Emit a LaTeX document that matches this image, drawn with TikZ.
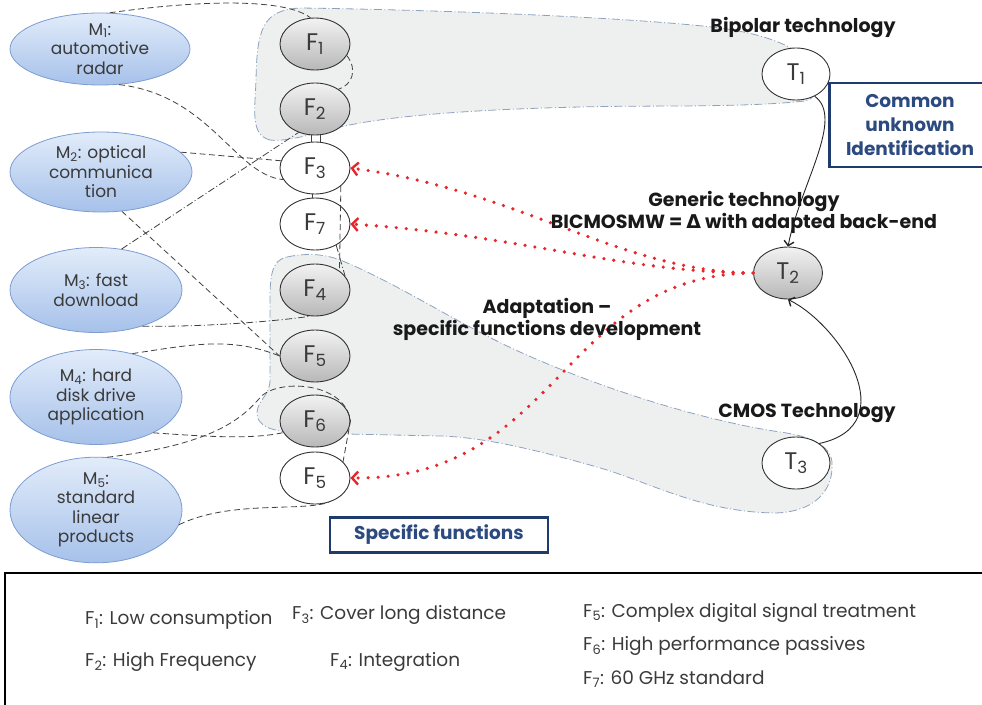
\documentclass[tikz,border=0pt]{standalone}
\usepackage{fontspec}
\setmainfont{Poppins}
\newfontfamily\dejavu{DejaVu Sans}
\usetikzlibrary{arrows.meta,shapes.geometric}
\definecolor{mkttop}{HTML}{E2ECFA}
\definecolor{mktbot}{HTML}{A6C1EA}
\definecolor{mktedge}{HTML}{7C9CD2}
\definecolor{navy}{HTML}{1F3A6E}
\definecolor{navytext}{HTML}{2C4A80}
\definecolor{blobfill}{HTML}{EEF0F0}
\definecolor{blobedge}{HTML}{8EA2BE}
\definecolor{txtgray}{HTML}{3A3A3A}
\definecolor{dotred}{HTML}{E8262A}

\begin{document}
\begin{tikzpicture}[x=1pt,y=-1pt,
    blob/.style={fill=blobfill,draw=blobedge,line width=0.8pt,dash pattern=on 8pt off 2.5pt on 1pt off 2.5pt},
    mkt/.style={ellipse,draw=mktedge,line width=0.8pt,top color=mkttop,bottom color=mktbot,minimum width=180,minimum height=70,inner sep=0pt,align=center,text=txtgray,font=\fontsize{17}{19.5}\selectfont},
    fgray/.style={ellipse,draw=black!80,line width=0.9pt,top color=white!95!black,bottom color=black!28,minimum width=70,minimum height=52,inner sep=0pt,text=txtgray,font=\fontsize{24}{28}\selectfont},
    fwhite/.style={fgray,top color=white,bottom color=white},
    mline/.style={draw=black!75,line width=0.8pt,dash pattern=on 6pt off 3.5pt},
    mdot/.style={draw=black!75,line width=0.8pt,dash pattern=on 7pt off 2.5pt on 1pt off 2.5pt},
    redarr/.style={draw=dotred,line width=3.6pt,line cap=round,dash pattern=on 0pt off 10pt,-{Straight Barb[length=6pt,width=13pt,line width=2.4pt]}},
    techarr/.style={draw=black!85,line width=0.9pt,-{Straight Barb[length=4.5pt,width=10pt,line width=1.4pt]}},
    lbl/.style={font=\fontsize{19}{22}\selectfont\bfseries,text=black!90,align=center,inner sep=0pt},
    navybox/.style={draw=navy,line width=2.4pt,fill=white,text=navytext,align=center,font=\fontsize{18.5}{24}\selectfont\bfseries},
    leg/.style={anchor=west,inner sep=0pt,text=txtgray,font=\fontsize{18.5}{22}\selectfont}]
    \useasboundingbox (0,0) rectangle (982,704);
    \filldraw[blob] (270,140) .. controls (250,135) and (255,110) .. (256,80)
        .. controls (257,30) and (262,10) .. (300,8)
        .. controls (450,10) and (640,18) .. (720,28)
        .. controls (780,36) and (812,55) .. (815,75)
        .. controls (817,95) and (812,100) .. (805,101)
        .. controls (740,108) and (650,105) .. (580,107)
        .. controls (450,110) and (380,118) .. (340,127)
        .. controls (310,135) and (285,142) .. (270,140) -- cycle;
    \filldraw[blob] (287,257) .. controls (310,252) and (330,255) .. (345,262)
        .. controls (400,285) and (460,325) .. (520,352)
        .. controls (600,388) and (700,420) .. (780,432)
        .. controls (810,436) and (830,445) .. (832,462)
        .. controls (834,490) and (815,512) .. (775,513)
        .. controls (700,512) and (650,482) .. (597,467)
        .. controls (530,448) and (480,437) .. (440,436)
        -- (300,433)
        .. controls (270,432) and (256,425) .. (257,412)
        .. controls (258,400) and (270,395) .. (270,380)
        -- (270,300)
        .. controls (270,275) and (272,260) .. (287,257) -- cycle;
    \node[mkt] (M1) at (100,49) {M\textsubscript{1}:\\automotive\\radar};
    \node[mkt,minimum width=182,minimum height=80] (M2) at (101,172) {M\textsubscript{2}: optical\\communica\\tion};
    \node[mkt,minimum width=172,minimum height=85] (M3) at (96,290) {M\textsubscript{3}: fast\\download};
    \node[mkt,minimum width=172,minimum height=95] (M4) at (96,397) {M\textsubscript{4}: hard\\disk drive\\application};
    \node[mkt,minimum width=172,minimum height=95] (M5) at (96,510) {M\textsubscript{5}:\\standard\\linear\\products};
    \node[fgray] (F1) at (315,44) {F\textsubscript{1}};
    \node[fgray] (F2) at (315,109) {F\textsubscript{2}};
    \node[fwhite] (F3) at (315,168) {F\textsubscript{3}};
    \node[fwhite] (F7) at (315,224) {F\textsubscript{7}};
    \node[fgray] (F4) at (315,290) {F\textsubscript{4}};
    \node[fgray] (F5g) at (315,356) {F\textsubscript{5}};
    \node[fgray] (F6) at (315,421) {F\textsubscript{6}};
    \node[fwhite] (F5w) at (315,478) {F\textsubscript{5}};
    \node[fwhite,minimum width=68] (T1) at (796,74) {T\textsubscript{1}};
    \node[fgray,minimum width=69] (T2) at (788,273) {T\textsubscript{2}};
    \node[fwhite,minimum width=68] (T3) at (796,463) {T\textsubscript{3}};
    \draw[mline] (M1.75) .. controls (200,0) and (285,-2) .. (F1.100);
    \draw[mline] (M1.-62) .. controls (210,95) and (235,175) .. (F3.200);
    \draw[mline] (M2.14) -- (F3.168);
    \draw[mline] (M2.-62) -- (F5g.west);
    \draw[mdot] (M3.58) -- (F2.235);
    \draw[mdot] (M3.-38) .. controls (200,327) and (270,322) .. (F4.260);
    \draw[mline] (M4.50) .. controls (190,345) and (230,336) .. (F5g.west);
    \draw[mline] (M4.-32) .. controls (200,436) and (250,440) .. (F6.200);
    \draw[mline] (M5.78) .. controls (210,445) and (240,420) .. (258,400)
        .. controls (272,378) and (345,380) .. (F6.east) -- (F5w.30);
    \draw[mline] (M5.-10) .. controls (230,500) and (300,512) .. (F5w.-60);
    \draw[mline] (F1.-20) .. controls (358,70) and (352,85) .. (F2.40);
    \draw[black!75,line width=0.7pt] (F2.-78) -- (F3.78);
    \draw[black!75,line width=0.7pt] (F2.-98) -- (F3.98);
    \draw[black!75,line width=0.7pt] (F3.-95) -- (F7.95);
    \draw[mline] (F3.-35) -- (F4.38);
    \draw[mdot] (F7.-45) -- (F4.25);
    %\draw[step=50,gray,very thin] (0,0) grid (982,704);
    \draw[redarr] (T2.west) .. controls (620,272) and (520,190) .. (F3.east);
    \draw[redarr] (T2.west) .. controls (620,272) and (520,235) .. (F7.east);
    \draw[redarr] (T2.west) .. controls (560,275) and (560,480) .. (F5w.east);
    \draw[techarr] (T1.-50) .. controls (845,118) and (800,185) .. (T2.north);
    \draw[techarr] (T3.40) .. controls (905,425) and (840,325) .. (T2.south);
    \node[navybox,minimum width=161,minimum height=84] (common) at (910,125) {Common\\unknown\\Identification};
    \node[navybox,minimum width=218,minimum height=35] (spec) at (439,535) {Specific functions};
    \node[lbl] (bip) at (803,28) {Bipolar technology};
    \node[lbl] (gen) at (744,212) {Generic technology\\BICMOSMW = {\dejavu\bfseries Δ} with adapted back-end};
    \node[lbl] (adapt) at (547,319) {Adaptation –\\specific functions development};
    \node[lbl] (cmos) at (807,413) {CMOS Technology};
    \draw[line width=2pt] (5,573) rectangle (995,716);
    \node[leg] (l1) at (85,620) {F\textsubscript{1}: Low consumption};
    \node[leg] (l2) at (85,662) {F\textsubscript{2}: High Frequency};
    \node[leg] (l3) at (292,615) {F\textsubscript{3}: Cover long distance};
    \node[leg] (l4) at (330,662) {F\textsubscript{4}: Integration};
    \node[leg] (l5) at (583,613) {F\textsubscript{5}: Complex digital signal treatment};
    \node[leg] (l6) at (583,646) {F\textsubscript{6}: High performance passives};
    \node[leg] (l7) at (583,679) {F\textsubscript{7}: 60 GHz standard};
\end{tikzpicture}
\end{document}
